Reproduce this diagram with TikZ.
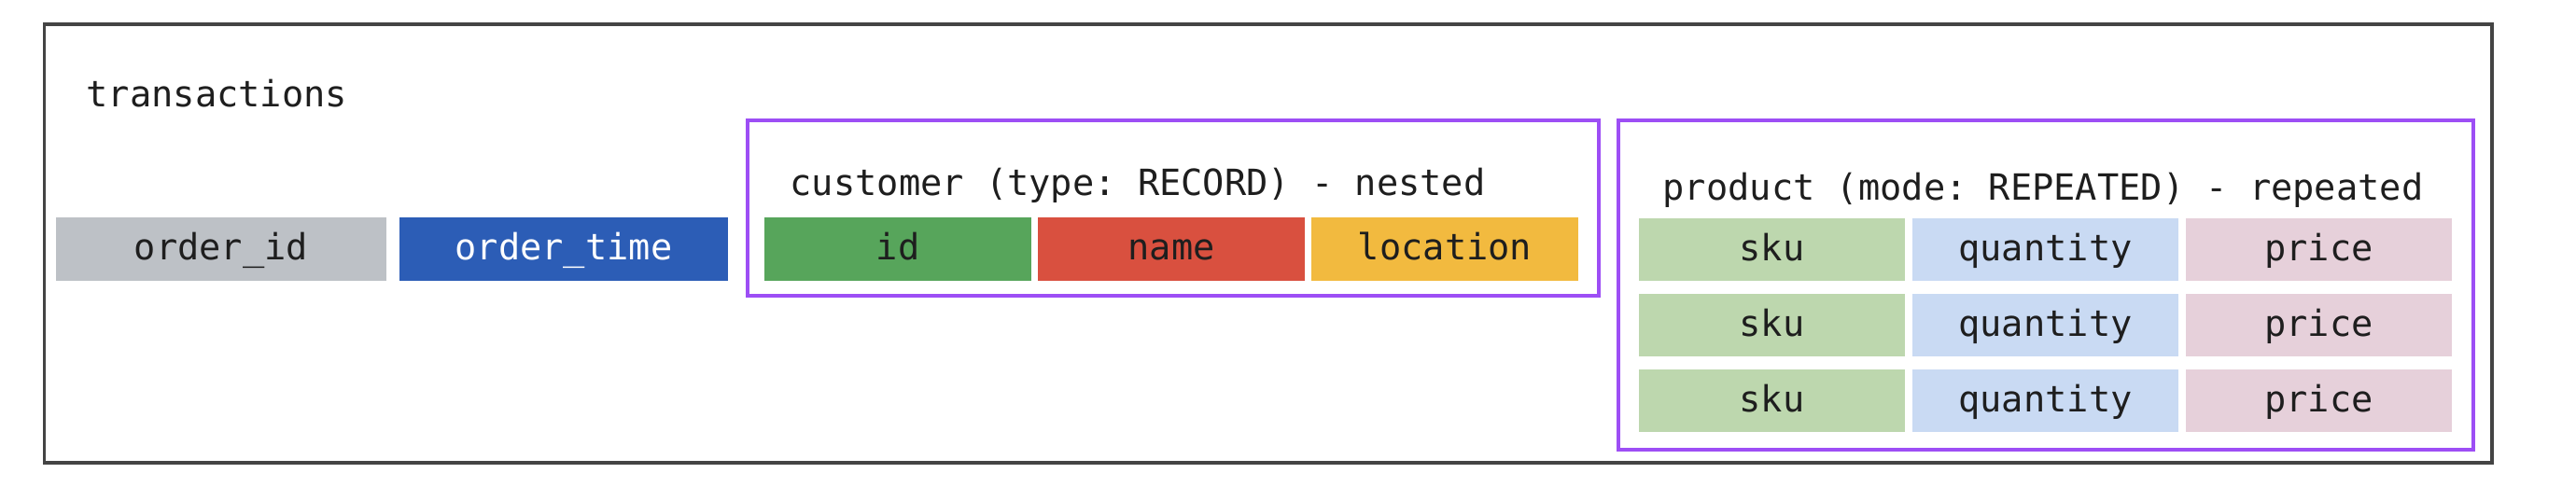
\documentclass[tikz,border=0pt]{standalone}
\usepackage{fontspec}
\setmonofont{DejaVu Sans Mono}
\usepackage{tikz}
\usetikzlibrary{positioning}
\definecolor{FrameGray}{HTML}{444444}
\definecolor{GroupPurple}{HTML}{9D4EF5}
\definecolor{FieldGray}{HTML}{BDC1C6}
\definecolor{FieldBlue}{HTML}{2C5DB6}
\definecolor{FieldGreen}{HTML}{57A55B}
\definecolor{FieldRed}{HTML}{D9503F}
\definecolor{FieldAmber}{HTML}{F2BA3F}
\definecolor{FieldSage}{HTML}{BDD7AE}
\definecolor{FieldSky}{HTML}{C9DAF3}
\definecolor{FieldRose}{HTML}{E6D0DA}
\definecolor{InkBlack}{HTML}{1E1E1E}
\tikzset{
  labeltext/.style={inner sep=0pt, text=InkBlack, font=\ttfamily\fontsize{11}{13}\selectfont},
  fieldbox/.style={
    minimum height=6.8mm,
    inner sep=0pt,
    outer sep=0pt,
    text=InkBlack,
    text height=2ex,
    text depth=.4ex,
    font=\ttfamily\fontsize{11}{13}\selectfont
  },
  groupframe/.style={draw=GroupPurple, line width=0.4mm}
}

\begin{document}
\begin{tikzpicture}[x=1mm,y=1mm]
  \useasboundingbox (0,0) rectangle (276,-53.6);
  % table frame
  \draw[draw=FrameGray, line width=0.35mm] (4.75,-2.6) rectangle (267,-49.6);
  \node[labeltext, anchor=west] (tabletitle) at (9.2,-10.0) {transactions};

  % top-level columns
  \node[fieldbox, fill=FieldGray, minimum width=35.4mm] (orderid) at (23.7,-26.65) {order\_id};
  \node[fieldbox, fill=FieldBlue, text=white, minimum width=35.2mm, right=1.4mm of orderid] (ordertime) {order\_time};

  % customer record
  \draw[groupframe] (80.1,-12.9) rectangle (171.3,-31.7);
  \node[labeltext, anchor=west] (customerlabel) at (84.6,-19.9) {customer (type: RECORD) - nested};
  \node[fieldbox, fill=FieldGreen, minimum width=28.6mm, anchor=west] (custid) at (81.9,-26.65) {id};
  \node[fieldbox, fill=FieldRed, minimum width=28.6mm, right=0.7mm of custid] (custname) {name};
  \node[fieldbox, fill=FieldAmber, minimum width=28.6mm, right=0.7mm of custname] (custloc) {location};

  % product repeated
  \draw[groupframe] (173.4,-12.9) rectangle (265,-48.2);
  \node[labeltext, anchor=west] (productlabel) at (178.1,-20.4) {product (mode: REPEATED) - repeated};
  \foreach \row/\y in {1/-26.7, 2/-34.8, 3/-42.9} {
    \node[fieldbox, fill=FieldSage, minimum height=6.7mm, minimum width=28.5mm, anchor=west] (sku\row) at (175.6,\y) {sku};
    \node[fieldbox, fill=FieldSky, minimum height=6.7mm, minimum width=28.5mm, right=0.8mm of sku\row] (qty\row) {quantity};
    \node[fieldbox, fill=FieldRose, minimum height=6.7mm, minimum width=28.5mm, right=0.8mm of qty\row] (price\row) {price};
  }
\end{tikzpicture}
\end{document}
